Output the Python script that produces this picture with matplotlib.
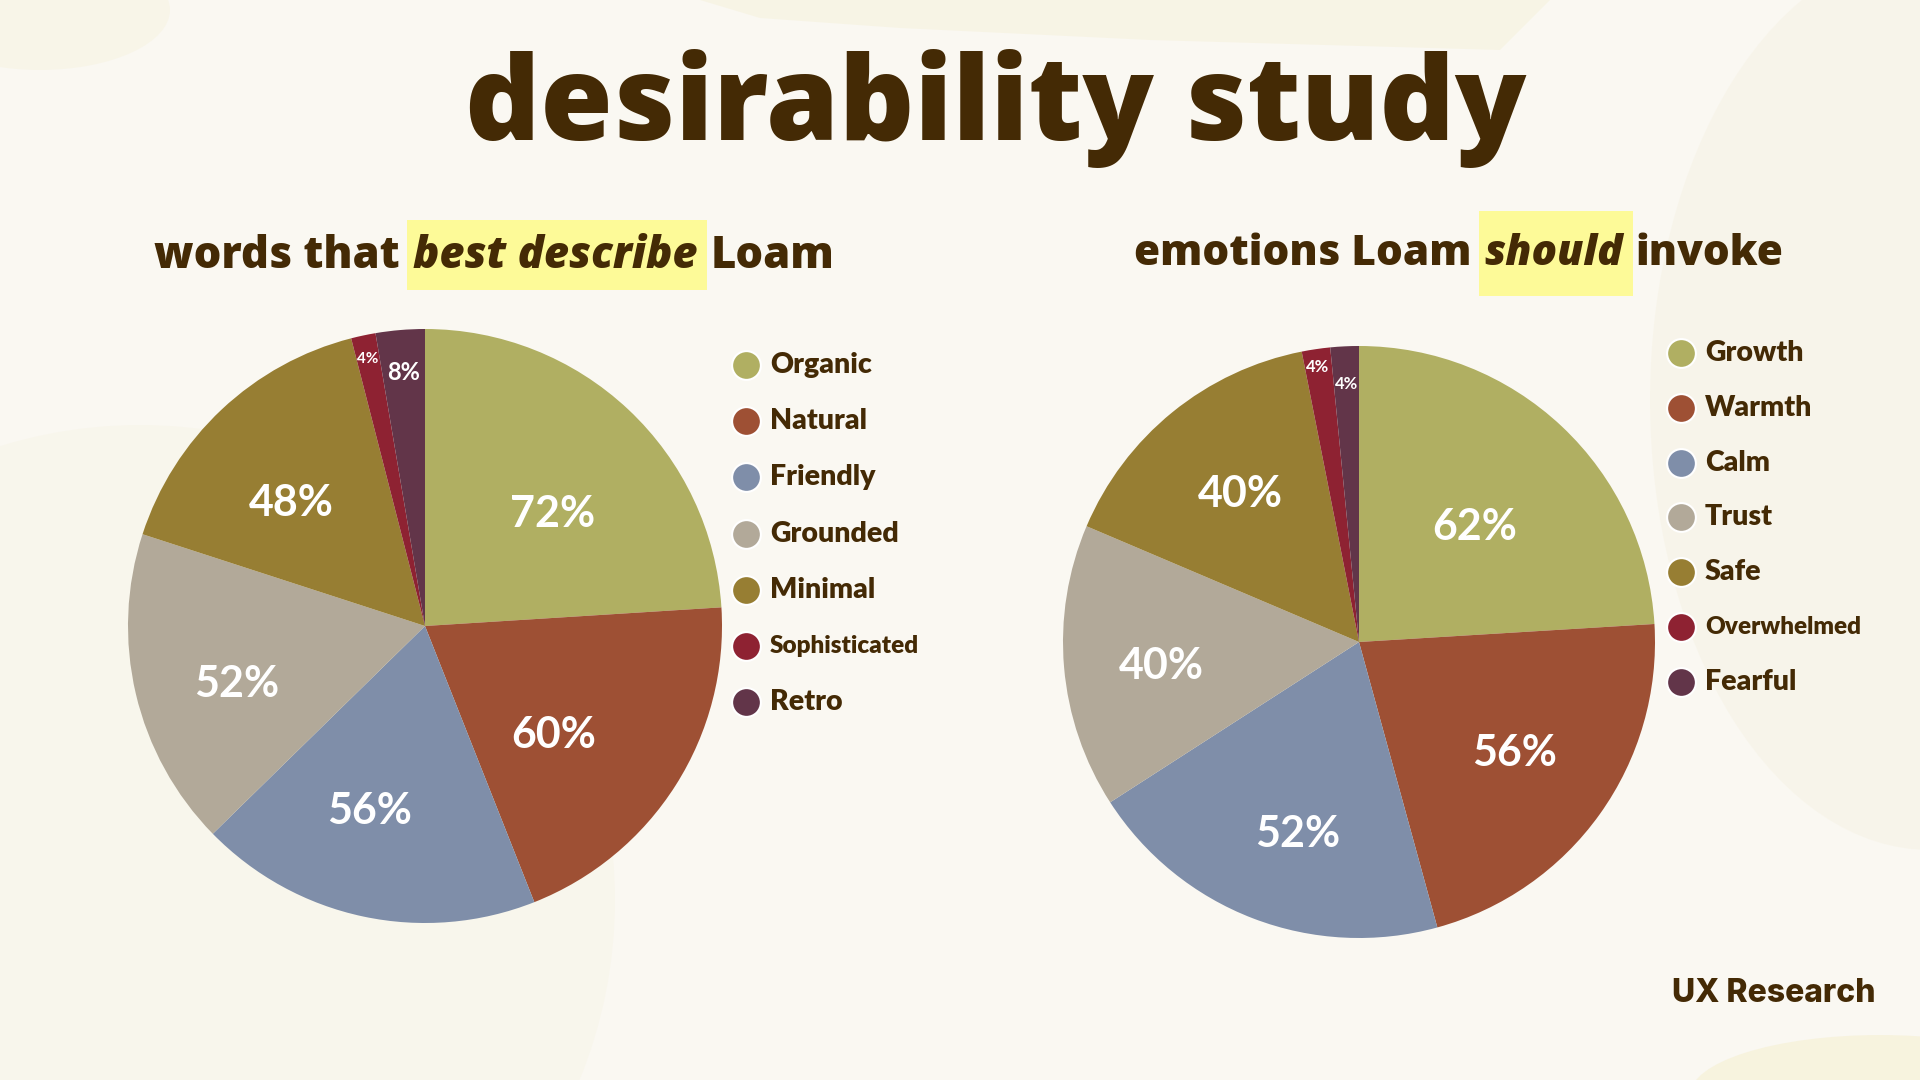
import numpy as np
import matplotlib
matplotlib.use("Agg")
import matplotlib.pyplot as plt
from matplotlib.patches import Rectangle, Ellipse, Polygon

# data
words_labels = ["Organic", "Natural", "Friendly", "Grounded", "Minimal", "Sophisticated", "Retro"]
words_values = [72, 60, 56, 52, 48, 4, 8]
emotion_labels = ["Growth", "Warmth", "Calm", "Trust", "Safe", "Overwhelmed", "Fearful"]
emotion_values = [62, 56, 52, 40, 40, 4, 4]
slice_colors = ["#B0AF62", "#9E5034", "#7F8EA9", "#B2A999", "#977E33", "#8E2232", "#623549"]

# label placement (angle nudge in degrees, distance from centre as fraction of radius)
words_label_nudge = [-4.5, -7, -5, 3, 3.5, 0, 0]
words_label_dist = [0.58, 0.56, 0.64, 0.66, 0.62, 0.93, 0.87]
emotion_label_nudge = [-1, 1, 3, 1, -1, 0, 0]
emotion_label_dist = [0.56, 0.64, 0.67, 0.67, 0.65, 0.95, 0.885]

text_color = "#442A05"
bg_color = "#FAF8F2"
highlight_color = "#FDFA98"
W, H = 1920, 1080

fig = plt.figure(figsize=(19.2, 10.8), dpi=100)
fig.patch.set_facecolor(bg_color)
bg = fig.add_axes([0, 0, 1, 1], zorder=0)
bg.set_xlim(0, W)
bg.set_ylim(H, 0)
bg.axis("off")

# faint paper blobs in the background
bg.add_patch(Ellipse((140, 900), 950, 950, color="#F6F2DF", alpha=0.3, lw=0))
bg.add_patch(Polygon([[700, 0], [1550, 0], [1500, 50], [1150, 40], [900, 28], [760, 18]],
                     closed=True, color="#F5F0D6", alpha=0.45, lw=0))
bg.add_patch(Ellipse((1930, 400), 560, 900, color="#F4EFDD", alpha=0.35, lw=0))
bg.add_patch(Ellipse((1880, 1095), 380, 120, color="#F6F0D2", alpha=0.6, lw=0))
bg.add_patch(Ellipse((40, 10), 260, 120, color="#F6F1DA", alpha=0.4, lw=0))

renderer = fig.canvas.get_renderer()


def fit_width(t, target):
    w = t.get_window_extent(renderer).width
    t.set_fontsize(t.get_fontsize() * target / w)


# title
title = bg.text(996, 140, "desirability study", ha="center", va="baseline", color=text_color,
                fontsize=80, fontweight=800, family="Open Sans")
fit_width(title, 1062)


def mixed_title(parts, cx, baseline, target, hl_top, hl_bottom):
    size = 34
    gap_em = 0.3
    texts = []
    for txt, italic, hl in parts:
        t = bg.text(0, baseline, txt, ha="left", va="baseline", color=text_color,
                    fontsize=size, fontweight=800, family="Open Sans",
                    fontstyle="italic" if italic else "normal", zorder=3)
        texts.append(t)
    raw = sum(t.get_window_extent(renderer).width for t in texts) + gap_em * size * 100 / 72 * (len(texts) - 1)
    size = size * target / raw
    for t in texts:
        t.set_fontsize(size)
    widths = [t.get_window_extent(renderer).width for t in texts]
    gap = gap_em * size * 100 / 72
    total = sum(widths) + gap * (len(texts) - 1)
    x = cx - total / 2
    for t, w, (_, _, hl) in zip(texts, widths, parts):
        t.set_x(x)
        if hl:
            bg.add_patch(Rectangle((x - 6, hl_top), w + 16, hl_bottom - hl_top,
                                   color=highlight_color, lw=0, zorder=2))
        x += w + gap


mixed_title([("words that", False, False), ("best describe", True, True), ("Loam", False, False)],
            494, 268, 681, 220, 290)
mixed_title([("emotions Loam", False, False), ("should", True, True), ("invoke", False, False)],
            1459, 265, 650, 211, 296)


def draw_pie(cx, cy, r, values, labels, nudge, dist, small_fs, lx, ly0, lstep):
    ax = fig.add_axes([(cx - r) / W, (H - cy - r) / H, 2 * r / W, 2 * r / H], zorder=2)
    wedges, _ = ax.pie(values, colors=slice_colors, startangle=90, counterclock=False,
                       wedgeprops=dict(linewidth=0))
    ax.set_xlim(-1, 1)
    ax.set_ylim(-1, 1)
    ax.set_aspect("equal")
    for w, v, dn, d in zip(wedges, values, nudge, dist):
        ang = np.deg2rad((w.theta1 + w.theta2) / 2 + dn)
        if v <= 4:
            fs = small_fs
        elif v < 10:
            fs = 17
        else:
            fs = 31
        ax.text(d * np.cos(ang), d * np.sin(ang) - 0.012, f"{v}%", ha="center", va="center",
                color="white", fontsize=fs, fontweight="bold", family="Lato")
    # legend
    for i, lab in enumerate(labels):
        y = ly0 + i * lstep
        bg.scatter([lx], [y], s=430, color=slice_colors[i], edgecolor="white", linewidth=1.5, zorder=3)
        fs = 17.5 if len(lab) > 10 else 20.5
        bg.text(lx + 24, y, lab, ha="left", va="center", color=text_color,
                fontsize=fs, fontweight="heavy", family="Lato", zorder=3)


draw_pie(425, 626, 297, words_values, words_labels, words_label_nudge, words_label_dist, 11,
         746, 365, 56.2)
draw_pie(1359, 642, 296, emotion_values, emotion_labels, emotion_label_nudge, emotion_label_dist, 12,
         1681, 353, 54.8)

bg.text(1875, 993, "UX Research", ha="right", va="center", color=text_color,
        fontsize=23, fontweight="heavy", family="Inter")

fig.savefig("out.png", dpi=100, facecolor=fig.get_facecolor())
